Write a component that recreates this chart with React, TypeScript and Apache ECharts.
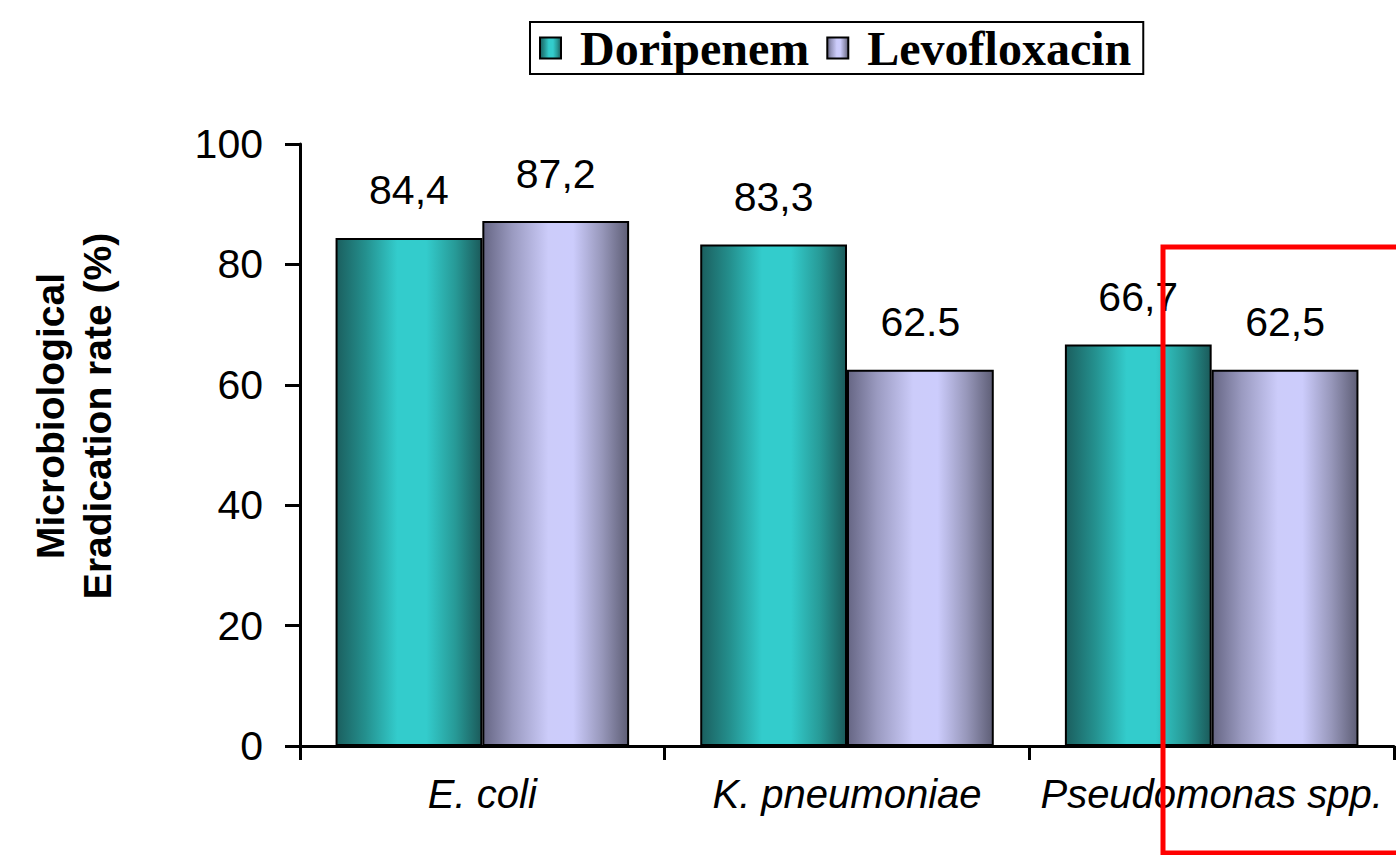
import React, { useEffect, useRef } from "react";
import * as echarts from "echarts";

const categories = ["E. coli", "K. pneumoniae", "Pseudomonas spp."];
const doripenem = [84.4, 83.3, 66.7];
const levofloxacin = [87.2, 62.5, 62.5];
const doripenemLabels = ["84,4", "83,3", "66,7"];
const levofloxacinLabels = ["87,2", "62.5", "62,5"];
const yTicks = [0, 20, 40, 60, 80, 100];

const SANS = "'Liberation Sans', Arial, sans-serif";

export default function App() {
  const ref = useRef<HTMLDivElement>(null);
  useEffect(() => {
    if (!ref.current) return;
    const chart = echarts.init(ref.current, undefined, { renderer: "svg" });
    const teal = new echarts.graphic.LinearGradient(0, 0, 1, 0, [
      { offset: 0, color: "#1b5f5f" },
      { offset: 0.2, color: "#24908e" },
      { offset: 0.42, color: "#33cccc" },
      { offset: 0.62, color: "#33cccc" },
      { offset: 0.82, color: "#279a97" },
      { offset: 1, color: "#1b5b5b" },
    ]);
    const lav = new echarts.graphic.LinearGradient(0, 0, 1, 0, [
      { offset: 0, color: "#666684" },
      { offset: 0.2, color: "#9a9ac0" },
      { offset: 0.45, color: "#ccccfa" },
      { offset: 0.62, color: "#ccccfc" },
      { offset: 0.82, color: "#9797ba" },
      { offset: 1, color: "#5e5e76" },
    ]);
    const valueLabel = (labels: string[]) => ({
      show: true,
      position: "top",
      distance: 27,
      color: "#000",
      fontFamily: SANS,
      fontSize: 41,
      formatter: (p: any) => labels[p.dataIndex],
    });
    chart.setOption({
      animation: false,
      backgroundColor: "#fff",
      legend: {
        left: 530,
        top: 22,
        padding: [2, 12, 2, 9],
        borderColor: "#000",
        borderWidth: 2,
        itemWidth: 21,
        itemHeight: 21,
        itemGap: 17,
        icon: "rect",
        textStyle: {
          fontFamily: "'Liberation Serif', 'Times New Roman', serif",
          fontWeight: "bold",
          fontSize: 48,
          color: "#000",
          padding: [0, 0, 0, 14],
        },
        data: ["Doripenem", "Levofloxacin"],
      },
      grid: { left: 300, right: 2, top: 144, bottom: 109, containLabel: false },
      xAxis: {
        type: "category",
        data: categories,
        axisLine: { lineStyle: { color: "#000", width: 3 } },
        axisTick: { show: true, length: 14, lineStyle: { color: "#000", width: 3 } },
        axisLabel: {
          interval: 0,
          hideOverlap: false,
          color: "#000",
          fontFamily: SANS,
          fontStyle: "italic",
          fontSize: 40,
          margin: 28,
        },
      },
      yAxis: {
        type: "value",
        min: 0,
        max: 100,
        interval: 20,
        splitLine: { show: false },
        axisLine: { show: true, lineStyle: { color: "#000", width: 3 } },
        axisTick: { show: true, length: 15, lineStyle: { color: "#000", width: 3 } },
        axisLabel: {
          color: "#000",
          fontFamily: SANS,
          fontSize: 41,
          margin: 37,
          formatter: (v: number) => (yTicks.includes(v) ? String(v) : ""),
        },
      },
      series: [
        {
          name: "Doripenem",
          type: "bar",
          data: doripenem,
          barGap: "0%",
          barCategoryGap: "19.5%",
          itemStyle: { color: teal, borderColor: "#000", borderWidth: 2 },
          label: valueLabel(doripenemLabels),
        },
        {
          name: "Levofloxacin",
          type: "bar",
          data: levofloxacin,
          barGap: "0%",
          barCategoryGap: "19.5%",
          itemStyle: { color: lav, borderColor: "#000", borderWidth: 2 },
          label: valueLabel(levofloxacinLabels),
        },
      ],
      graphic: [
        {
          type: "text",
          x: 74,
          y: 416,
          rotation: Math.PI / 2,
          style: {
            text: "Microbiological\nEradication rate (%)",
            fill: "#000",
            font: "bold 39px 'Liberation Sans', Arial, sans-serif",
            textAlign: "center",
            textVerticalAlign: "middle",
            lineHeight: 47,
          },
        },
        {
          type: "rect",
          shape: { x: 1163, y: 247, width: 260, height: 606 },
          style: { fill: "none", stroke: "#ff0000", lineWidth: 5 },
          z: 100,
        },
      ],
    });
    return () => chart.dispose();
  }, []);
  return (
    <div
      ref={ref}
      style={{ position: "fixed", left: 0, top: 0, width: 1396, height: 855 }}
    />
  );
}
